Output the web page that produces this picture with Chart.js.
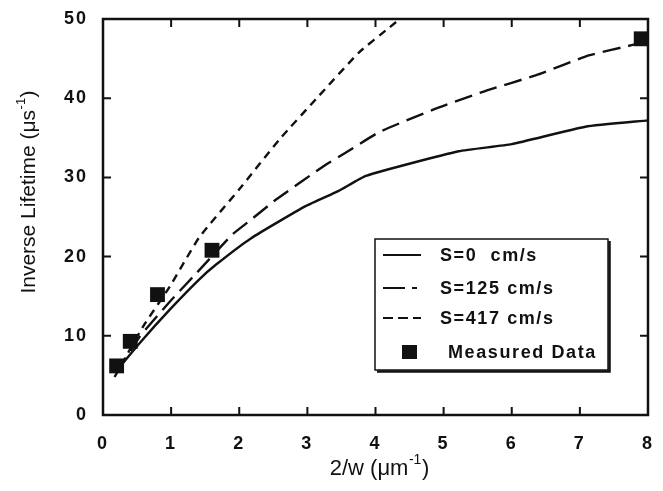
<!DOCTYPE html>
<html>
<head>
<meta charset="utf-8">
<script src="https://cdn.jsdelivr.net/npm/chart.js@4/dist/chart.umd.min.js"></script>
<style>
html,body{margin:0;padding:0;background:#fff;}
#wrap{width:663px;height:491px;position:relative;}
</style>
</head>
<body>
<div id="wrap"><canvas id="c" width="663" height="491"></canvas></div>
<script>
// ---- data ----
const xTicks = [0,1,2,3,4,5,6,7,8];
const yTicks = [0,10,20,30,40,50];

const s0X = [0.2, 0.54, 0.98, 1.41, 1.66, 2.17, 2.98, 3.46, 3.86, 5.22, 6.0, 7.08, 8.0];
const s0Y = [5.6, 9.1, 13.3, 17.1, 19.0, 22.3, 26.4, 28.3, 30.2, 33.3, 34.2, 36.4, 37.2];

const s125X = [0.2, 0.54, 0.98, 1.37, 1.9, 2.15, 2.54, 3.27, 3.56, 4.05, 4.83, 5.61, 6.39, 7.13, 7.76, 8.0];
const s125Y = [5.3, 9.9, 14.3, 17.9, 22.8, 24.5, 27.2, 31.6, 33.1, 35.7, 38.5, 40.9, 43.0, 45.4, 46.7, 47.2];

const s417X = [0.17, 0.59, 0.98, 1.41, 2.0, 2.59, 3.17, 3.76, 4.2, 4.5];
const s417Y = [4.8, 11.2, 16.2, 22.4, 28.5, 34.8, 40.3, 45.8, 48.9, 51.0];

const measX = [0.2, 0.4, 0.8, 1.6, 7.9];
const measY = [6.2, 9.3, 15.2, 20.8, 47.5];

const seriesLabels = ['S=0  cm/s', 'S=125 cm/s', 'S=417 cm/s', 'Measured Data'];
const xTitleParts = ['2/w (\u03bcm', '-1', ')'];
const yTitleParts = ['Inverse Lifetime (\u03bcs', '-1', ')'];

const toXY = (xs, ys) => xs.map((x, i) => ({x: x, y: ys[i]}));
const INK = '#111';
const FONT = '"Liberation Sans", Arial, sans-serif';

function drawSupTitle(ctx, parts, size, cx, cy) {
  const mainF = size + 'px ' + FONT;
  const supF = Math.round(size * 0.62) + 'px ' + FONT;
  ctx.font = mainF;
  const w0 = ctx.measureText(parts[0]).width;
  const w2 = ctx.measureText(parts[2]).width;
  ctx.font = supF;
  const w1 = ctx.measureText(parts[1]).width;
  let x = cx - (w0 + w1 + w2 + 1) / 2;
  ctx.textAlign = 'left';
  ctx.textBaseline = 'middle';
  ctx.font = mainF; ctx.fillText(parts[0], x, cy); x += w0 + 0.5;
  ctx.font = supF; ctx.fillText(parts[1], x, cy - size * 0.38); x += w1 + 0.5;
  ctx.font = mainF; ctx.fillText(parts[2], x, cy);
}

// frame + inward ticks + titles + legend
const decor = {
  id: 'decor',
  beforeDraw(chart) { chart.ctx.letterSpacing = '2px'; },
  afterDatasetsDraw(chart) {
    const ctx = chart.ctx, a = chart.chartArea;
    const xs = chart.scales.x, ys = chart.scales.y;
    ctx.save();
    ctx.letterSpacing = '0px';
    ctx.strokeStyle = INK;
    ctx.lineWidth = 2.5;
    ctx.strokeRect(a.left, a.top, a.right - a.left, a.bottom - a.top);
    ctx.lineWidth = 2;
    const tl = 8;
    xTicks.forEach(v => {
      const p = xs.getPixelForValue(v);
      ctx.beginPath();
      ctx.moveTo(p, a.bottom); ctx.lineTo(p, a.bottom - tl);
      ctx.moveTo(p, a.top); ctx.lineTo(p, a.top + tl);
      ctx.stroke();
    });
    yTicks.forEach(v => {
      const p = ys.getPixelForValue(v);
      ctx.beginPath();
      ctx.moveTo(a.left, p); ctx.lineTo(a.left + tl, p);
      ctx.moveTo(a.right, p); ctx.lineTo(a.right - tl, p);
      ctx.stroke();
    });
    // axis titles
    ctx.fillStyle = INK;
    drawSupTitle(ctx, xTitleParts, 22, (a.left + a.right) / 2 + 4, 469);
    ctx.save();
    ctx.translate(29, 192);
    ctx.rotate(-Math.PI / 2);
    drawSupTitle(ctx, yTitleParts, 21, 0, 0);
    ctx.restore();

    // legend box
    const bx = 375, by = 239, bw = 233, bh = 131;
    ctx.fillStyle = '#fff';
    ctx.fillRect(bx, by, bw, bh);
    ctx.lineWidth = 1.5;
    ctx.strokeRect(bx, by, bw, bh);
    ctx.lineWidth = 2.5;
    ctx.beginPath();
    ctx.moveTo(bx + 2, by + bh + 1.5); ctx.lineTo(bx + bw + 1.5, by + bh + 1.5); ctx.lineTo(bx + bw + 1.5, by + 2);
    ctx.stroke();
    const rows = [255, 288, 318, 352];
    const sampleDash = [[], [22, 7, 5, 30], [10, 5]];
    ctx.font = 'bold 18px ' + FONT;
    ctx.letterSpacing = '1.6px';
    ctx.textAlign = 'left';
    ctx.textBaseline = 'middle';
    chart.data.datasets.forEach((ds, i) => {
      const y = rows[i];
      ctx.strokeStyle = INK; ctx.fillStyle = INK;
      if (ds.showLine) {
        ctx.lineWidth = 2;
        ctx.setLineDash(sampleDash[i]);
        ctx.beginPath(); ctx.moveTo(383, y); ctx.lineTo(421, y); ctx.stroke();
        ctx.setLineDash([]);
        ctx.fillText(ds.label, 440, y + 1);
      } else {
        ctx.fillRect(402, y - 7, 15, 14);
        ctx.fillText(ds.label, 448, y + 1);
      }
    });
    ctx.restore();
  }
};

new Chart(document.getElementById('c'), {
  type: 'scatter',
  data: {
    datasets: [
      {label: seriesLabels[0], data: toXY(s0X, s0Y), showLine: true, borderColor: INK, borderWidth: 2.4, pointRadius: 0, tension: 0.15},
      {label: seriesLabels[1], data: toXY(s125X, s125Y), showLine: true, borderColor: INK, borderWidth: 2.4, borderDash: [18, 8], pointRadius: 0, tension: 0.15},
      {label: seriesLabels[2], data: toXY(s417X, s417Y), showLine: true, borderColor: INK, borderWidth: 2.4, borderDash: [8, 6], pointRadius: 0, tension: 0.15},
      {label: seriesLabels[3], data: toXY(measX, measY), showLine: false, pointStyle: 'rect', pointRadius: 10.5, backgroundColor: INK, borderColor: INK, borderWidth: 0, clip: 6}
    ]
  },
  options: {
    responsive: false,
    animation: false,
    layout: {padding: {left: 0, right: 13, top: 19, bottom: 0}},
    plugins: {legend: {display: false}, tooltip: {enabled: false}},
    scales: {
      x: {
        type: 'linear', min: 0, max: 8,
        afterFit: s => { s.height = 76; },
        afterBuildTicks: s => { s.ticks = xTicks.map(v => ({value: v})); },
        grid: {display: false}, border: {display: false},
        ticks: {color: INK, font: {family: FONT, size: 18, weight: 'bold'}, padding: 10, maxRotation: 0}
      },
      y: {
        type: 'linear', min: 0, max: 50,
        afterFit: s => { s.width = 103; },
        afterBuildTicks: s => { s.ticks = yTicks.map(v => ({value: v})); },
        grid: {display: false}, border: {display: false},
        ticks: {color: INK, font: {family: FONT, size: 18, weight: 'bold'}, padding: 7}
      }
    }
  },
  plugins: [decor]
});
</script>
</body>
</html>
